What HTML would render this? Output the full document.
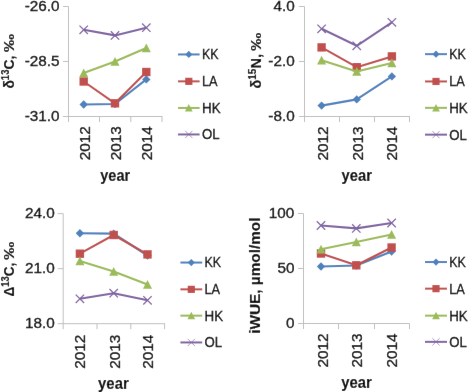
<!DOCTYPE html>
<html><head><meta charset="utf-8"><style>
html,body{margin:0;padding:0;background:#fff;}
svg{display:block;}
#w{width:468px;height:392px;will-change:transform;}
text{font-family:"Liberation Sans",sans-serif;fill:#000;stroke:#000;stroke-width:0.3px;}
text[font-weight="bold"]{stroke-width:0.12px;}
</style></head><body>
<div id="w"><svg width="468" height="392" viewBox="0 0 468 392" font-family="Liberation Sans">
<defs><filter id="b" x="0" y="0" width="468" height="392" filterUnits="userSpaceOnUse"><feConvolveMatrix order="3" kernelMatrix="0.0019 0.0439 0.0019 0.0439 1.0000 0.0439 0.0019 0.0439 0.0019" edgeMode="duplicate" preserveAlpha="true"/></filter></defs>
<g filter="url(#b)">
<rect width="468" height="392" fill="#fff"/>
<path d="M68.5 6.5V122.0M63.0 6.5H68.5M63.0 61.5H68.5M63.0 116.5H162.5" stroke="#bfbfbf" stroke-width="1" fill="none"/>
<path d="M99.5 116.5V122.0" stroke="#bfbfbf" stroke-width="1"/>
<path d="M130.8 116.5V122.0" stroke="#bfbfbf" stroke-width="1"/>
<path d="M162 116.5V122.0" stroke="#bfbfbf" stroke-width="1"/>
<text x="59.5" y="10.80" text-anchor="end" font-size="15.3">-26.0</text>
<text x="59.5" y="65.80" text-anchor="end" font-size="15.3">-28.5</text>
<text x="59.5" y="120.80" text-anchor="end" font-size="15.3">-31.0</text>
<text transform="translate(89.80,126.30) rotate(-90)" text-anchor="end" font-size="15.3">2012</text>
<text transform="translate(120.60,126.30) rotate(-90)" text-anchor="end" font-size="15.3">2013</text>
<text transform="translate(151.80,126.30) rotate(-90)" text-anchor="end" font-size="15.3">2014</text>
<text x="100.3" y="181.20" font-size="16.3" font-weight="bold" textLength="29.8" lengthAdjust="spacingAndGlyphs">year</text>
<text transform="translate(13.6,88.6) rotate(-90) scale(0.91,1)" font-family="Liberation Sans" font-weight="bold" font-size="15.3"><tspan font-size="15.3">δ</tspan><tspan font-size="10.5" dy="-4.6">13</tspan><tspan dy="4.6">C,</tspan></text><text transform="translate(13.6,34.0) rotate(-90) scale(1.2,1)" font-family="Liberation Sans" font-weight="bold" font-size="15.3" font-size="14.5" text-anchor="end">‰</text>
<path d="M83.70 104.50 L115.00 104.00 L146.30 79.40" stroke="#4F81BD" stroke-width="2.1" fill="none" stroke-linejoin="round"/>
<path d="M79.50 104.50L83.70 100.30L87.90 104.50L83.70 108.70Z" fill="#4F81BD"/>
<path d="M110.80 104.00L115.00 99.80L119.20 104.00L115.00 108.20Z" fill="#4F81BD"/>
<path d="M142.10 79.40L146.30 75.20L150.50 79.40L146.30 83.60Z" fill="#4F81BD"/>
<path d="M83.70 81.50 L115.00 103.30 L146.30 72.00" stroke="#C0504D" stroke-width="2.1" fill="none" stroke-linejoin="round"/>
<rect x="79.50" y="77.30" width="8.40" height="8.40" fill="#C0504D"/>
<rect x="110.80" y="99.10" width="8.40" height="8.40" fill="#C0504D"/>
<rect x="142.10" y="67.80" width="8.40" height="8.40" fill="#C0504D"/>
<path d="M83.70 73.00 L115.00 61.50 L146.30 48.00" stroke="#9BBB59" stroke-width="2.1" fill="none" stroke-linejoin="round"/>
<path d="M83.70 68.50L88.24 77.20L79.16 77.20Z" fill="#9BBB59"/>
<path d="M115.00 57.00L119.54 65.70L110.46 65.70Z" fill="#9BBB59"/>
<path d="M146.30 43.50L150.84 52.20L141.76 52.20Z" fill="#9BBB59"/>
<path d="M83.70 29.80 L115.00 35.40 L146.30 27.70" stroke="#8064A2" stroke-width="2.1" fill="none" stroke-linejoin="round"/>
<path d="M79.50 25.60L87.90 34.00M79.50 34.00L87.90 25.60" stroke="#8064A2" stroke-width="1.3" stroke-opacity="1" fill="none"/>
<path d="M110.80 31.20L119.20 39.60M110.80 39.60L119.20 31.20" stroke="#8064A2" stroke-width="1.3" stroke-opacity="1" fill="none"/>
<path d="M142.10 23.50L150.50 31.90M142.10 31.90L150.50 23.50" stroke="#8064A2" stroke-width="1.3" stroke-opacity="1" fill="none"/>
<path d="M178 54.45H199.6" stroke="#4F81BD" stroke-width="2.0"/>
<path d="M185.20 54.45L188.80 50.85L192.40 54.45L188.80 58.05Z" fill="#4F81BD"/>
<text x="202" y="59.35" font-size="15.3" textLength="16.6" lengthAdjust="spacingAndGlyphs">KK</text>
<path d="M178 81.35H199.6" stroke="#C0504D" stroke-width="2.0"/>
<rect x="185.20" y="77.75" width="7.20" height="7.20" fill="#C0504D"/>
<text x="202" y="86.25" font-size="15.3" textLength="15.6" lengthAdjust="spacingAndGlyphs">LA</text>
<path d="M178 107.95H199.6" stroke="#9BBB59" stroke-width="2.0"/>
<path d="M188.80 104.05L192.69 111.55L184.91 111.55Z" fill="#9BBB59"/>
<text x="202" y="112.85" font-size="15.3" textLength="18.6" lengthAdjust="spacingAndGlyphs">HK</text>
<path d="M178 134.45H199.6" stroke="#8064A2" stroke-width="2.0"/>
<path d="M185.20 130.85L192.40 138.05M185.20 138.05L192.40 130.85" stroke="#8064A2" stroke-width="0.9" stroke-opacity="0.75" fill="none"/>
<text x="202" y="139.35" font-size="15.3" textLength="17.6" lengthAdjust="spacingAndGlyphs">OL</text>
<path d="M304.5 6.5V122.0M299.0 6.5H304.5M299.0 61.5H304.5M299.0 116.5H410" stroke="#bfbfbf" stroke-width="1" fill="none"/>
<path d="M339.5 116.5V122.0" stroke="#bfbfbf" stroke-width="1"/>
<path d="M374.5 116.5V122.0" stroke="#bfbfbf" stroke-width="1"/>
<path d="M409.5 116.5V122.0" stroke="#bfbfbf" stroke-width="1"/>
<text x="294.7" y="10.80" text-anchor="end" font-size="15.3">4.0</text>
<text x="294.7" y="65.80" text-anchor="end" font-size="15.3">-2.0</text>
<text x="294.7" y="120.80" text-anchor="end" font-size="15.3">-8.0</text>
<text transform="translate(328.10,126.50) rotate(-90)" text-anchor="end" font-size="15.3">2012</text>
<text transform="translate(362.70,126.50) rotate(-90)" text-anchor="end" font-size="15.3">2013</text>
<text transform="translate(397.00,126.50) rotate(-90)" text-anchor="end" font-size="15.3">2014</text>
<text x="341.6" y="181.10" font-size="16.3" font-weight="bold" textLength="30.3" lengthAdjust="spacingAndGlyphs">year</text>
<text transform="translate(260.6,88.6) rotate(-90) scale(0.955,1)" font-family="Liberation Sans" font-weight="bold" font-size="15.3"><tspan font-size="15.3">δ</tspan><tspan font-size="10.5" dy="-4.6">15</tspan><tspan dy="4.6">N,</tspan></text><text transform="translate(260.6,32.6) rotate(-90) scale(1.2,1)" font-family="Liberation Sans" font-weight="bold" font-size="15.3" font-size="14.5" text-anchor="end">‰</text>
<path d="M321.60 105.60 L356.75 99.40 L391.90 76.40" stroke="#4F81BD" stroke-width="2.1" fill="none" stroke-linejoin="round"/>
<path d="M317.40 105.60L321.60 101.40L325.80 105.60L321.60 109.80Z" fill="#4F81BD"/>
<path d="M352.55 99.40L356.75 95.20L360.95 99.40L356.75 103.60Z" fill="#4F81BD"/>
<path d="M387.70 76.40L391.90 72.20L396.10 76.40L391.90 80.60Z" fill="#4F81BD"/>
<path d="M321.60 47.40 L356.75 67.20 L391.90 56.40" stroke="#C0504D" stroke-width="2.1" fill="none" stroke-linejoin="round"/>
<rect x="317.40" y="43.20" width="8.40" height="8.40" fill="#C0504D"/>
<rect x="352.55" y="63.00" width="8.40" height="8.40" fill="#C0504D"/>
<rect x="387.70" y="52.20" width="8.40" height="8.40" fill="#C0504D"/>
<path d="M321.60 60.20 L356.75 71.60 L391.90 63.10" stroke="#9BBB59" stroke-width="2.1" fill="none" stroke-linejoin="round"/>
<path d="M321.60 55.70L326.14 64.40L317.06 64.40Z" fill="#9BBB59"/>
<path d="M356.75 67.10L361.29 75.80L352.21 75.80Z" fill="#9BBB59"/>
<path d="M391.90 58.60L396.44 67.30L387.36 67.30Z" fill="#9BBB59"/>
<path d="M321.60 28.80 L356.75 45.80 L391.90 22.30" stroke="#8064A2" stroke-width="2.1" fill="none" stroke-linejoin="round"/>
<path d="M317.40 24.60L325.80 33.00M317.40 33.00L325.80 24.60" stroke="#8064A2" stroke-width="1.3" stroke-opacity="1" fill="none"/>
<path d="M352.55 41.60L360.95 50.00M352.55 50.00L360.95 41.60" stroke="#8064A2" stroke-width="1.3" stroke-opacity="1" fill="none"/>
<path d="M387.70 18.10L396.10 26.50M387.70 26.50L396.10 18.10" stroke="#8064A2" stroke-width="1.3" stroke-opacity="1" fill="none"/>
<path d="M425 54.15H447" stroke="#4F81BD" stroke-width="2.0"/>
<path d="M432.40 54.15L436.00 50.55L439.60 54.15L436.00 57.75Z" fill="#4F81BD"/>
<text x="449.2" y="59.05" font-size="15.3" textLength="16.6" lengthAdjust="spacingAndGlyphs">KK</text>
<path d="M425 81.45H447" stroke="#C0504D" stroke-width="2.0"/>
<rect x="432.40" y="77.85" width="7.20" height="7.20" fill="#C0504D"/>
<text x="449.2" y="86.35" font-size="15.3" textLength="15.6" lengthAdjust="spacingAndGlyphs">LA</text>
<path d="M425 107.85H447" stroke="#9BBB59" stroke-width="2.0"/>
<path d="M436.00 103.95L439.89 111.45L432.11 111.45Z" fill="#9BBB59"/>
<text x="449.2" y="112.75" font-size="15.3" textLength="18.6" lengthAdjust="spacingAndGlyphs">HK</text>
<path d="M425 134.65H447" stroke="#8064A2" stroke-width="2.0"/>
<path d="M432.40 131.05L439.60 138.25M432.40 138.25L439.60 131.05" stroke="#8064A2" stroke-width="0.9" stroke-opacity="0.75" fill="none"/>
<text x="449.2" y="139.55" font-size="15.3" textLength="17.6" lengthAdjust="spacingAndGlyphs">OL</text>
<path d="M63.2 213.6V329.2M57.7 213.6H63.2M57.7 268.7H63.2M57.7 323.7H164.9" stroke="#bfbfbf" stroke-width="1" fill="none"/>
<path d="M97 323.7V329.2" stroke="#bfbfbf" stroke-width="1"/>
<path d="M130.8 323.7V329.2" stroke="#bfbfbf" stroke-width="1"/>
<path d="M164.6 323.7V329.2" stroke="#bfbfbf" stroke-width="1"/>
<text x="54.8" y="217.90" text-anchor="end" font-size="15.3">24.0</text>
<text x="54.8" y="273.00" text-anchor="end" font-size="15.3">21.0</text>
<text x="54.8" y="328.00" text-anchor="end" font-size="15.3">18.0</text>
<text transform="translate(85.30,334.80) rotate(-90)" text-anchor="end" font-size="15.3">2012</text>
<text transform="translate(119.90,334.80) rotate(-90)" text-anchor="end" font-size="15.3">2013</text>
<text transform="translate(152.60,334.80) rotate(-90)" text-anchor="end" font-size="15.3">2014</text>
<text x="98.1" y="389.20" font-size="16.3" font-weight="bold" textLength="30.6" lengthAdjust="spacingAndGlyphs">year</text>
<text transform="translate(13.6,296.4) rotate(-90) scale(0.887,1)" font-family="Liberation Sans" font-weight="bold" font-size="15.3"><tspan font-size="15.3">Δ</tspan><tspan font-size="10.5" dy="-4.6">13</tspan><tspan dy="4.6">C,</tspan></text><text transform="translate(13.6,241.7) rotate(-90) scale(1.2,1)" font-family="Liberation Sans" font-weight="bold" font-size="15.3" font-size="14.5" text-anchor="end">‰</text>
<path d="M79.90 233.30 L113.70 233.60 L147.50 255.50" stroke="#4F81BD" stroke-width="2.1" fill="none" stroke-linejoin="round"/>
<path d="M75.70 233.30L79.90 229.10L84.10 233.30L79.90 237.50Z" fill="#4F81BD"/>
<path d="M109.50 233.60L113.70 229.40L117.90 233.60L113.70 237.80Z" fill="#4F81BD"/>
<path d="M143.30 255.50L147.50 251.30L151.70 255.50L147.50 259.70Z" fill="#4F81BD"/>
<path d="M79.90 253.70 L113.70 235.00 L147.50 254.40" stroke="#C0504D" stroke-width="2.1" fill="none" stroke-linejoin="round"/>
<rect x="75.70" y="249.50" width="8.40" height="8.40" fill="#C0504D"/>
<rect x="109.50" y="230.80" width="8.40" height="8.40" fill="#C0504D"/>
<rect x="143.30" y="250.20" width="8.40" height="8.40" fill="#C0504D"/>
<path d="M79.90 261.00 L113.70 271.50 L147.50 284.50" stroke="#9BBB59" stroke-width="2.1" fill="none" stroke-linejoin="round"/>
<path d="M79.90 256.50L84.44 265.20L75.36 265.20Z" fill="#9BBB59"/>
<path d="M113.70 267.00L118.24 275.70L109.16 275.70Z" fill="#9BBB59"/>
<path d="M147.50 280.00L152.04 288.70L142.96 288.70Z" fill="#9BBB59"/>
<path d="M79.90 298.80 L113.70 293.20 L147.50 300.30" stroke="#8064A2" stroke-width="2.1" fill="none" stroke-linejoin="round"/>
<path d="M75.70 294.60L84.10 303.00M75.70 303.00L84.10 294.60" stroke="#8064A2" stroke-width="1.3" stroke-opacity="1" fill="none"/>
<path d="M109.50 289.00L117.90 297.40M109.50 297.40L117.90 289.00" stroke="#8064A2" stroke-width="1.3" stroke-opacity="1" fill="none"/>
<path d="M143.30 296.10L151.70 304.50M143.30 304.50L151.70 296.10" stroke="#8064A2" stroke-width="1.3" stroke-opacity="1" fill="none"/>
<path d="M180.4 262.55H202.2" stroke="#4F81BD" stroke-width="2.0"/>
<path d="M187.70 262.55L191.30 258.95L194.90 262.55L191.30 266.15Z" fill="#4F81BD"/>
<text x="204.5" y="267.45" font-size="15.3" textLength="16.6" lengthAdjust="spacingAndGlyphs">KK</text>
<path d="M180.4 289.35H202.2" stroke="#C0504D" stroke-width="2.0"/>
<rect x="187.70" y="285.75" width="7.20" height="7.20" fill="#C0504D"/>
<text x="204.5" y="294.25" font-size="15.3" textLength="15.6" lengthAdjust="spacingAndGlyphs">LA</text>
<path d="M180.4 315.65H202.2" stroke="#9BBB59" stroke-width="2.0"/>
<path d="M191.30 311.75L195.19 319.25L187.41 319.25Z" fill="#9BBB59"/>
<text x="204.5" y="320.55" font-size="15.3" textLength="18.6" lengthAdjust="spacingAndGlyphs">HK</text>
<path d="M180.4 342.45H202.2" stroke="#8064A2" stroke-width="2.0"/>
<path d="M187.70 338.85L194.90 346.05M187.70 346.05L194.90 338.85" stroke="#8064A2" stroke-width="0.9" stroke-opacity="0.75" fill="none"/>
<text x="204.5" y="347.35" font-size="15.3" textLength="17.6" lengthAdjust="spacingAndGlyphs">OL</text>
<path d="M303.5 213.5V329.0M298.0 213.5H303.5M298.0 268.5H303.5M298.0 323.5H409.5" stroke="#bfbfbf" stroke-width="1" fill="none"/>
<path d="M338.5 323.5V329.0" stroke="#bfbfbf" stroke-width="1"/>
<path d="M374.5 323.5V329.0" stroke="#bfbfbf" stroke-width="1"/>
<path d="M409.5 323.5V329.0" stroke="#bfbfbf" stroke-width="1"/>
<text x="294.4" y="217.80" text-anchor="end" font-size="15.3">100</text>
<text x="294.4" y="272.80" text-anchor="end" font-size="15.3">50</text>
<text x="294.4" y="327.80" text-anchor="end" font-size="15.3">0</text>
<text transform="translate(327.50,333.50) rotate(-90)" text-anchor="end" font-size="15.3">2012</text>
<text transform="translate(362.20,333.50) rotate(-90)" text-anchor="end" font-size="15.3">2013</text>
<text transform="translate(397.00,333.50) rotate(-90)" text-anchor="end" font-size="15.3">2014</text>
<text x="341.3" y="388.20" font-size="16.3" font-weight="bold" textLength="30.6" lengthAdjust="spacingAndGlyphs">year</text>
<text transform="translate(260.3,333.7) rotate(-90)" font-family="Liberation Sans" font-weight="bold" font-size="15.3" textLength="116.1" lengthAdjust="spacingAndGlyphs">iWUE, µmol/mol</text>
<path d="M321.00 266.50 L356.30 265.50 L391.60 251.50" stroke="#4F81BD" stroke-width="2.1" fill="none" stroke-linejoin="round"/>
<path d="M316.80 266.50L321.00 262.30L325.20 266.50L321.00 270.70Z" fill="#4F81BD"/>
<path d="M352.10 265.50L356.30 261.30L360.50 265.50L356.30 269.70Z" fill="#4F81BD"/>
<path d="M387.40 251.50L391.60 247.30L395.80 251.50L391.60 255.70Z" fill="#4F81BD"/>
<path d="M321.00 253.50 L356.30 265.30 L391.60 247.50" stroke="#C0504D" stroke-width="2.1" fill="none" stroke-linejoin="round"/>
<rect x="316.80" y="249.30" width="8.40" height="8.40" fill="#C0504D"/>
<rect x="352.10" y="261.10" width="8.40" height="8.40" fill="#C0504D"/>
<rect x="387.40" y="243.30" width="8.40" height="8.40" fill="#C0504D"/>
<path d="M321.00 249.30 L356.30 242.00 L391.60 234.50" stroke="#9BBB59" stroke-width="2.1" fill="none" stroke-linejoin="round"/>
<path d="M321.00 244.80L325.54 253.50L316.46 253.50Z" fill="#9BBB59"/>
<path d="M356.30 237.50L360.84 246.20L351.76 246.20Z" fill="#9BBB59"/>
<path d="M391.60 230.00L396.14 238.70L387.06 238.70Z" fill="#9BBB59"/>
<path d="M321.00 225.50 L356.30 228.40 L391.60 223.00" stroke="#8064A2" stroke-width="2.1" fill="none" stroke-linejoin="round"/>
<path d="M316.80 221.30L325.20 229.70M316.80 229.70L325.20 221.30" stroke="#8064A2" stroke-width="1.3" stroke-opacity="1" fill="none"/>
<path d="M352.10 224.20L360.50 232.60M352.10 232.60L360.50 224.20" stroke="#8064A2" stroke-width="1.3" stroke-opacity="1" fill="none"/>
<path d="M387.40 218.80L395.80 227.20M387.40 227.20L395.80 218.80" stroke="#8064A2" stroke-width="1.3" stroke-opacity="1" fill="none"/>
<path d="M425 262.05H447" stroke="#4F81BD" stroke-width="2.0"/>
<path d="M432.40 262.05L436.00 258.45L439.60 262.05L436.00 265.65Z" fill="#4F81BD"/>
<text x="449.2" y="266.95" font-size="15.3" textLength="16.6" lengthAdjust="spacingAndGlyphs">KK</text>
<path d="M425 288.65H447" stroke="#C0504D" stroke-width="2.0"/>
<rect x="432.40" y="285.05" width="7.20" height="7.20" fill="#C0504D"/>
<text x="449.2" y="293.55" font-size="15.3" textLength="15.6" lengthAdjust="spacingAndGlyphs">LA</text>
<path d="M425 315.65H447" stroke="#9BBB59" stroke-width="2.0"/>
<path d="M436.00 311.75L439.89 319.25L432.11 319.25Z" fill="#9BBB59"/>
<text x="449.2" y="320.55" font-size="15.3" textLength="18.6" lengthAdjust="spacingAndGlyphs">HK</text>
<path d="M425 341.85H447" stroke="#8064A2" stroke-width="2.0"/>
<path d="M432.40 338.25L439.60 345.45M432.40 345.45L439.60 338.25" stroke="#8064A2" stroke-width="0.9" stroke-opacity="0.75" fill="none"/>
<text x="449.2" y="346.75" font-size="15.3" textLength="17.6" lengthAdjust="spacingAndGlyphs">OL</text>
</g>
</svg></div>
</body></html>
